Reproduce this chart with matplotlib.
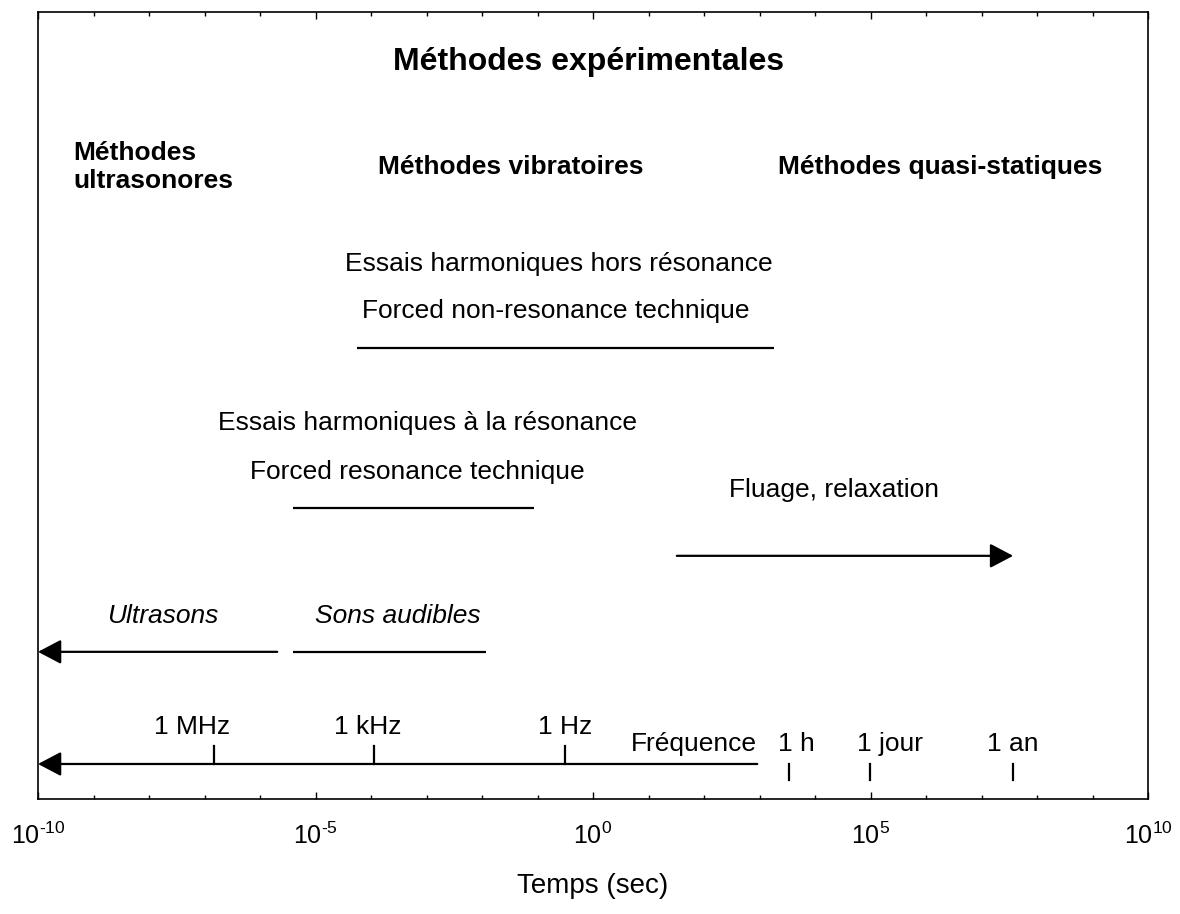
import numpy as np
import matplotlib
matplotlib.use("Agg")
import matplotlib.pyplot as plt
from matplotlib.ticker import FixedLocator, FuncFormatter, NullFormatter

plt.rcParams['font.family'] = ['Liberation Sans', 'DejaVu Sans']
plt.rcParams['mathtext.fontset'] = 'custom'
plt.rcParams['mathtext.rm'] = 'Liberation Sans'
plt.rcParams['mathtext.it'] = 'Liberation Sans:italic'
plt.rcParams['mathtext.bf'] = 'Liberation Sans:bold'
plt.rcParams['mathtext.default'] = 'regular'

# --- data (times given as log10 of seconds) ---
title = "Méthodes expérimentales"
group_names = ["Méthodes\nultrasonores", "Méthodes vibratoires", "Méthodes quasi-statiques"]
group_x = [-9.36, -1.48, 6.26]

tech_fr = ["Essais harmoniques hors résonance", "Essais harmoniques à la résonance"]
tech_en = ["Forced non-resonance technique", "Forced resonance technique"]
tech_start = [-4.26, -5.41]
tech_end = [3.27, -1.06]

creep_name = "Fluage, relaxation"
creep_start = 1.51
creep_end = 7.57

sound_names = ["Ultrasons", "Sons audibles"]
sound_start = [-5.69, -5.41]
sound_end = [-10.0, -1.93]

freq_names = ["1 MHz", "1 kHz", "1 Hz"]
freq_marks = [-6.83, -3.95, -0.5]
freq_axis_start = 2.96

time_names = ["1 h", "1 jour", "1 an"]
time_marks = [3.54, 4.99, 7.57]

major_exp = [-10, -5, 0, 5, 10]
minor_exp = list(range(-10, 11))


def t(e):
    return 10.0 ** np.asarray(e, dtype=float)


fig = plt.figure(figsize=(11.8, 9.14), dpi=100)
ax = fig.add_axes([38 / 1180, 115 / 914, 1110 / 1180, 787 / 914])
ax.set_xscale('log')
ax.set_xlim(1e-10, 1e10)
ax.set_ylim(0, 1)

lw = 1.6
fs = 19
arrow = dict(arrowstyle='-|>,head_length=0.95,head_width=0.5', color='k',
             lw=lw, shrinkA=0, shrinkB=0, mutation_scale=15)

# headings
ax.text(t(-0.08), 0.936, title, ha='center', va='center', fontsize=23, fontweight='bold')
ax.text(t(group_x[0]), 0.803, group_names[0], ha='left', va='center',
        fontsize=fs, fontweight='bold', linespacing=1.2)
for name, x in zip(group_names[1:], group_x[1:]):
    ax.text(t(x), 0.803, name, ha='center', va='center', fontsize=fs, fontweight='bold')

# harmonic tests
txt_x = [(-0.61, -0.68), (-2.98, -3.17)]
txt_y = [(0.680, 0.620, 0.573), (0.478, 0.4155, 0.370)]
for i in range(2):
    ax.text(t(txt_x[i][0]), txt_y[i][0], tech_fr[i], ha='center', va='center', fontsize=fs)
    ax.text(t(txt_x[i][1]), txt_y[i][1], tech_en[i], ha='center', va='center', fontsize=fs)
    ax.plot(t([tech_start[i], tech_end[i]]), [txt_y[i][2]] * 2, color='k', lw=lw,
            solid_capstyle='butt')

# creep / relaxation
ax.text(t(4.34), 0.393, creep_name, ha='center', va='center', fontsize=fs)
ax.annotate('', xy=(t(creep_end), 0.309), xytext=(t(creep_start), 0.309), arrowprops=arrow)

# sound ranges
ax.text(t(-7.76), 0.2325, sound_names[0], ha='center', va='center', fontsize=fs, style='italic')
ax.text(t(-3.51), 0.2325, sound_names[1], ha='center', va='center', fontsize=fs, style='italic')
ax.annotate('', xy=(t(sound_end[0]), 0.187), xytext=(t(sound_start[0]), 0.187), arrowprops=arrow)
ax.plot(t([sound_start[1], sound_end[1]]), [0.187, 0.187], color='k', lw=lw, solid_capstyle='butt')

# frequency scale
ax.annotate('', xy=(t(-10), 0.0445), xytext=(t(freq_axis_start), 0.0445), arrowprops=arrow)
freq_dx = [-0.39, -0.1, 0.0]
for name, x, dx in zip(freq_names, freq_marks, freq_dx):
    ax.plot(t([x, x]), [0.0445, 0.067], color='k', lw=lw)
    ax.text(t(x + dx), 0.0915, name, ha='center', va='center', fontsize=fs)
ax.text(t(freq_axis_start), 0.070, "Fréquence", ha='right', va='center', fontsize=fs)

# time marks
time_lx = [3.66, 5.36, 7.57]
for name, x, lx in zip(time_names, time_marks, time_lx):
    ax.plot(t([x, x]), [0.0245, 0.0445], color='k', lw=lw)
    ax.text(t(lx), 0.070, name, ha='center', va='center', fontsize=fs)

# axes
ax.xaxis.set_major_locator(FixedLocator(t(major_exp)))
ax.xaxis.set_minor_locator(FixedLocator(t(minor_exp)))
ax.xaxis.set_major_formatter(FuncFormatter(
    lambda v, p: r'$10^{%s}$' % str(int(round(np.log10(v)))).replace('-', '\u2010')))
ax.xaxis.set_minor_formatter(NullFormatter())
ax.tick_params(axis='x', which='both', direction='in', top=True, bottom=True,
               labelsize=18, pad=17, width=1.0)
ax.tick_params(axis='x', which='major', length=5)
ax.tick_params(axis='x', which='minor', length=3)
ax.tick_params(axis='y', left=False, labelleft=False)
for s in ax.spines.values():
    s.set_linewidth(1.2)

ax.set_xlabel("Temps (sec)", fontsize=20, labelpad=17)

fig.savefig("out.png", dpi=100)
